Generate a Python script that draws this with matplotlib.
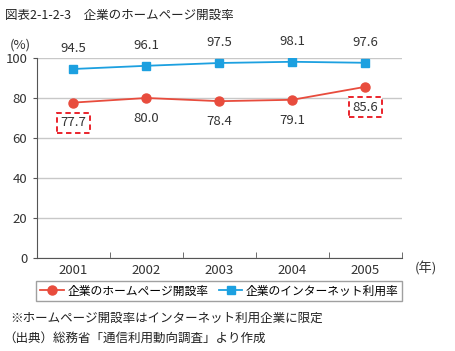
import matplotlib.pyplot as plt

plt.rcParams['font.family'] = ['Noto Sans CJK JP', 'DejaVu Sans']

years = ['2001', '2002', '2003', '2004', '2005']
homepage = [77.7, 80.0, 78.4, 79.1, 85.6]
internet = [94.5, 96.1, 97.5, 98.1, 97.6]
boxed = [0, 4]

red = '#e84c3d'
blue = '#1ca0e0'
gray = '#555555'

fig = plt.figure(figsize=(4.56, 3.51), dpi=100)
ax = fig.add_axes([0.0811, 0.265, 0.8004, 0.5698])

x = list(range(len(years)))
ax.plot(x, homepage, '-o', color=red, lw=1.3, ms=6.5, label='企業のホームページ開設率', zorder=3)
ax.plot(x, internet, '-s', color=blue, lw=1.3, ms=5.5, label='企業のインターネット利用率', zorder=3)

for i, v in enumerate(internet):
    ax.annotate(f'{v:.1f}', (i, v), xytext=(0, 10), textcoords='offset points',
                ha='center', va='bottom', fontsize=9.5, color='#333333', annotation_clip=False)
for i, v in enumerate(homepage):
    t = ax.annotate(f'{v:.1f}', (i, v), xytext=(0, -10), textcoords='offset points',
                    ha='center', va='top', fontsize=9.5, color='#333333')
    if i in boxed:
        t.set_bbox(dict(boxstyle='square,pad=0.25', fc='white', ec='#e8131b', ls=(0, (3, 2)), lw=1.3))

ax.set_xlim(-0.5, len(years) - 0.5)
ax.set_ylim(0, 100)
ax.set_yticks([0, 20, 40, 60, 80, 100])
ax.yaxis.grid(True, color='#c8c8c8', lw=1)
ax.set_axisbelow(True)
ax.set_xticks(x)
ax.set_xticklabels(years)
ax.set_xticks([i - 0.5 for i in range(len(years) + 1)], minor=True)
ax.tick_params(axis='x', which='major', length=0, pad=4, labelsize=9.5, labelcolor='#333333')
ax.tick_params(axis='x', which='minor', direction='in', length=4, color=gray)
ax.tick_params(axis='y', length=3, color=gray, labelsize=9.5, labelcolor='#333333', pad=4)
for s in ['top', 'right']:
    ax.spines[s].set_visible(False)
for s in ['left', 'bottom']:
    ax.spines[s].set_color(gray)

fig.text(0.011, 0.957, '図表2-1-2-3　企業のホームページ開設率', fontsize=9, color='#222222', va='center')
fig.text(0.044, 0.872, '(%)', fontsize=9.5, color='#333333', ha='center', va='center')
fig.text(0.935, 0.236, '(年)', fontsize=9.5, color='#333333', ha='center', va='center')

leg = fig.legend(loc='center', bbox_to_anchor=(0.481, 0.171), ncol=2, fontsize=8.5,
                 frameon=True, fancybox=False, edgecolor='#888888', handlelength=2.0,
                 columnspacing=0.9, borderpad=0.3, handletextpad=0.3)
leg.get_frame().set_linewidth(1)

fig.text(0.022, 0.094, '※ホームページ開設率はインターネット利用企業に限定', fontsize=9, color='#222222', va='center')
fig.text(0.008, 0.037, '（出典）総務省「通信利用動向調査」より作成', fontsize=9, color='#222222', va='center')

fig.savefig('out.png', dpi=100)
